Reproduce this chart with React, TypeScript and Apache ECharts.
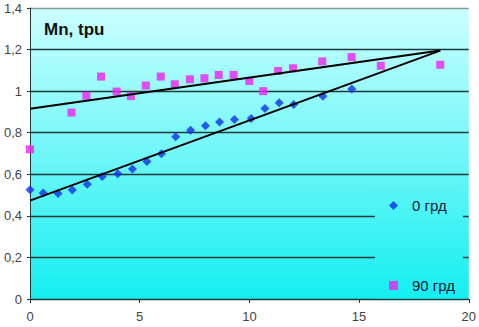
import React, { useEffect, useRef } from "react";
import * as echarts from "echarts";

const xTicks = [0, 5, 10, 15, 20];
const yTickLabels = ["0", "0,2", "0,4", "0,6", "0,8", "1", "1,2", "1,4"];

const series0Name = "0 грд";
const series90Name = "90 грд";

const x0 = [0, 0.6, 1.28, 1.93, 2.61, 3.29, 4.0, 4.67, 5.33, 5.99, 6.64, 7.32, 8.0, 8.64, 9.32, 10.08, 10.71, 11.36, 12.02, 13.35, 14.67];
const y0 = [0.526, 0.51, 0.508, 0.524, 0.552, 0.589, 0.602, 0.626, 0.661, 0.699, 0.78, 0.812, 0.833, 0.852, 0.863, 0.868, 0.917, 0.944, 0.936, 0.976, 1.01];

const x90 = [0, 1.89, 2.57, 3.24, 3.95, 4.6, 5.28, 5.96, 6.6, 7.29, 7.95, 8.6, 9.28, 10.0, 10.63, 11.31, 11.99, 13.32, 14.66, 15.99, 18.7];
const y90 = [0.72, 0.897, 0.978, 1.07, 0.998, 0.976, 1.027, 1.07, 1.033, 1.057, 1.062, 1.078, 1.078, 1.049, 1.0, 1.097, 1.11, 1.143, 1.164, 1.122, 1.127];

const trendX = [0, 18.7];
const trend0Y = [0.473, 1.195];
const trend90Y = [0.915, 1.195];

const titleText = "Mn, tpu";

export default function App() {
  const ref = useRef<HTMLDivElement>(null);
  useEffect(() => {
    if (!ref.current) return;
    const chart = echarts.init(ref.current, undefined, { renderer: "svg" });
    const stops = [
      { offset: 0, color: "#ccffff" },
      { offset: 1, color: "#14eef0" },
    ];
    const bg = new echarts.graphic.LinearGradient(0, 0, 0, 1, stops);
    const legendBg = new echarts.graphic.LinearGradient(0, 0, 0, 1, [
      { offset: 0, color: "#5bf5f6" },
      { offset: 1, color: "#14eef0" },
    ]);
    const axisColor = "#1e3a3a";
    chart.setOption({
      animation: false,
      backgroundColor: "#ffffff",
      textStyle: { fontFamily: "Arial, 'Liberation Sans', sans-serif" },
      grid: {
        left: 30,
        right: 7,
        top: 8,
        bottom: 28,
        show: true,
        backgroundColor: bg,
        borderWidth: 0,
      },
      graphic: [
        {
          type: "rect",
          z: 1,
          silent: true,
          shape: { x: 375, y: 186, width: 88, height: 112.5 },
          style: { fill: legendBg },
        },
        {
          type: "text",
          left: 44,
          top: 21,
          z: 10,
          style: {
            text: titleText,
            font: "bold 17px Arial, 'Liberation Sans', sans-serif",
            fill: "#111111",
          },
        },
      ],
      legend: {
        orient: "vertical",
        left: 375,
        top: 186,
        padding: [12, 8, 8, 14],
        itemGap: 65,
        itemWidth: 9,
        itemHeight: 9,
        textStyle: {
          fontSize: 15,
          color: "#1a1a3a",
          fontFamily: "Arial, 'Liberation Sans', sans-serif",
          padding: [0, 0, 0, 9],
        },
        data: [
          { name: series0Name, icon: "diamond" },
          { name: series90Name, icon: "rect" },
        ],
      },
      xAxis: {
        type: "value",
        min: xTicks[0],
        max: xTicks[xTicks.length - 1],
        interval: 5,
        axisLine: { show: true, lineStyle: { color: axisColor, width: 1 } },
        axisTick: { show: true, length: 4, lineStyle: { color: axisColor } },
        splitLine: { show: false },
        axisLabel: { color: "#444444", fontSize: 13, margin: 11 },
      },
      yAxis: {
        type: "value",
        min: 0,
        max: 1.4,
        interval: 0.2,
        axisLine: { show: true, lineStyle: { color: axisColor, width: 1 } },
        axisTick: { show: true, length: 3, lineStyle: { color: axisColor } },
        splitLine: {
          show: true,
          lineStyle: {
            color: [axisColor, axisColor, axisColor, axisColor, axisColor, axisColor, axisColor, "#8a9a9a"],
            width: 1.3,
          },
        },
        axisLabel: {
          color: "#444444",
          fontSize: 13,
          margin: 8,
          formatter: (v: number) => yTickLabels[Math.round(v / 0.2)] ?? String(v),
        },
      },
      series: [
        {
          name: series0Name,
          type: "scatter",
          symbol: "diamond",
          symbolSize: 9,
          itemStyle: { color: "#1030e8" },
          data: x0.map((x, i) => [x, y0[i]]),
          z: 3,
        },
        {
          name: series90Name,
          type: "scatter",
          symbol: "rect",
          symbolSize: 8,
          itemStyle: { color: "#f020f0" },
          data: x90.map((x, i) => [x, y90[i]]),
          z: 3,
        },
        {
          name: "trend0",
          type: "line",
          showSymbol: false,
          silent: true,
          lineStyle: { color: "#000000", width: 2 },
          data: trendX.map((x, i) => [x, trend0Y[i]]),
          z: 4,
        },
        {
          name: "trend90",
          type: "line",
          showSymbol: false,
          silent: true,
          lineStyle: { color: "#000000", width: 2 },
          data: trendX.map((x, i) => [x, trend90Y[i]]),
          z: 4,
        },
      ],
    });
    return () => chart.dispose();
  }, []);
  return (
    <div
      ref={ref}
      style={{ position: "fixed", left: 0, top: 0, width: 479, height: 327 }}
    />
  );
}
